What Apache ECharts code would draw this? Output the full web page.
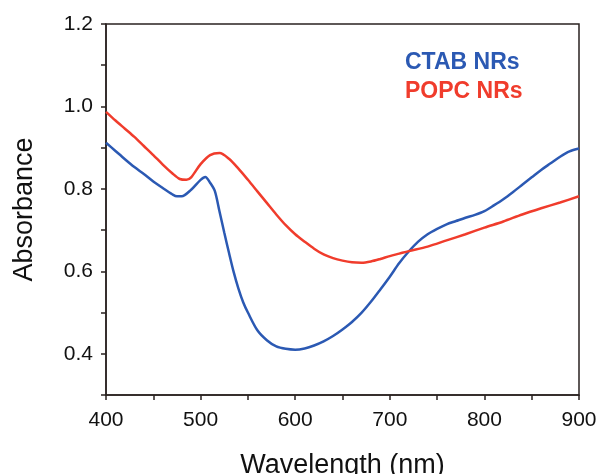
<!DOCTYPE html>
<html>
<head>
<meta charset="utf-8">
<script src="https://cdn.jsdelivr.net/npm/echarts@6/dist/echarts.min.js"></script>
<style>
html,body{margin:0;padding:0;background:#fff;}
#chart{width:599px;height:474px;}
</style>
</head>
<body>
<div id="chart"></div>
<script>
// Wavelength (nm) / absorbance
const ctabX = [400,410,420,430,440,450,460,470,475,480,490,500,505,510,515,520,525,530,535,540,545,550,560,570,580,590,600,610,620,630,640,650,660,670,680,690,700,710,720,730,740,750,760,770,780,790,800,810,820,830,840,850,860,870,880,890,900];
const ctabY = [0.912,0.892,0.872,0.853,0.836,0.818,0.802,0.787,0.782,0.782,0.798,0.822,0.829,0.815,0.795,0.745,0.694,0.645,0.598,0.558,0.525,0.500,0.457,0.433,0.418,0.412,0.410,0.413,0.420,0.430,0.443,0.459,0.477,0.499,0.526,0.556,0.587,0.620,0.648,0.672,0.690,0.703,0.714,0.722,0.730,0.737,0.746,0.760,0.775,0.792,0.810,0.828,0.846,0.862,0.878,0.891,0.898];
const popcX = [400,410,420,430,440,450,460,470,478,485,490,500,510,520,530,540,550,560,570,580,590,600,610,620,630,640,650,660,670,680,690,700,710,720,740,760,780,800,820,840,860,880,900];
const popcY = [0.987,0.966,0.946,0.926,0.904,0.882,0.859,0.838,0.824,0.822,0.828,0.860,0.882,0.887,0.873,0.849,0.822,0.794,0.766,0.738,0.712,0.690,0.672,0.655,0.641,0.632,0.626,0.622,0.621,0.624,0.630,0.637,0.643,0.649,0.660,0.675,0.690,0.706,0.721,0.738,0.753,0.767,0.782];
const seriesNames = ['CTAB NRs','POPC NRs'];
const seriesColors = ['#2b59b3','#f03c2c'];
const xTitle = 'Wavelength (nm)';
const yTitle = 'Absorbance';

const axisColor = '#2a2220';
const font = 'Liberation Sans, Arial, sans-serif';
const chart = echarts.init(document.getElementById('chart'));
chart.setOption({
  animation: false,
  backgroundColor: '#fff',
  grid: {left: 106, right: 20, top: 24, bottom: 79, show: true, borderColor: axisColor, borderWidth: 1.5,
    backgroundColor: 'transparent', containLabel: false, outerBoundsMode: 'none'},
  legend: {
    orient: 'vertical', left: 400, top: 51, padding: 0, itemGap: 6,
    itemWidth: 0, itemHeight: 0, icon: 'rect',
    data: seriesNames.map((n,i)=>({name:n, textStyle:{color:seriesColors[i], fontWeight:'bold', fontSize:23, fontFamily:font}}))
  },
  xAxis: {
    type: 'value', min: 400, max: 900, interval: 50,
    name: xTitle, nameLocation: 'middle', nameGap: 57,
    nameTextStyle: {fontSize: 27, color: '#111', fontFamily: font},
    axisLine: {lineStyle: {color: axisColor, width: 1.5}},
    axisTick: {show: true, inside: false, length: 5, lineStyle: {color: axisColor, width: 1.5}},
    axisLabel: {fontSize: 21, color: '#111', fontFamily: font, margin: 15,
      formatter: v => (Math.round(v) % 100 === 0 ? String(Math.round(v)) : '')},
    splitLine: {show: false}
  },
  yAxis: {
    type: 'value', min: 0.3, max: 1.2, interval: 0.1,
    name: yTitle, nameLocation: 'middle', nameGap: 68,
    nameTextStyle: {fontSize: 27, color: '#111', fontFamily: font},
    axisLine: {show: true, lineStyle: {color: axisColor, width: 1.5}},
    axisTick: {show: true, inside: false, length: 5, lineStyle: {color: axisColor, width: 1.5}},
    axisLabel: {fontSize: 21, color: '#111', fontFamily: font, margin: 13,
      formatter: v => { const t = Math.round(v*10); return (t % 2 === 0) ? (t/10).toFixed(1) : ''; }},
    splitLine: {show: false}
  },
  series: [
    {name: seriesNames[0], type: 'line', data: ctabX.map((x,i)=>[x, ctabY[i]]), showSymbol: false, smooth: 0.3,
      lineStyle: {color: seriesColors[0], width: 2.5}, itemStyle: {color: seriesColors[0]}},
    {name: seriesNames[1], type: 'line', data: popcX.map((x,i)=>[x, popcY[i]]), showSymbol: false, smooth: 0.3,
      lineStyle: {color: seriesColors[1], width: 2.5}, itemStyle: {color: seriesColors[1]}}
  ]
});
</script>
</body>
</html>
